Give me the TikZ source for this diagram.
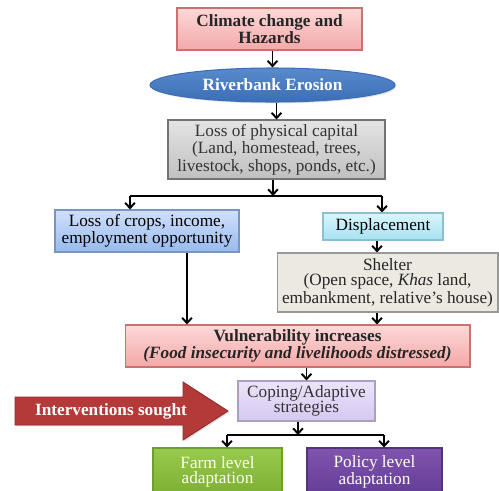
\documentclass[tikz,border=0pt]{standalone}
\usepackage{fontspec}
\setmainfont{Liberation Serif}
\usetikzlibrary{shapes.geometric,shadows,arrows.meta}
\definecolor{pinktop}{RGB}{253,216,216}
\definecolor{pinkbot}{RGB}{243,168,168}
\definecolor{pinkline}{RGB}{205,112,112}
\definecolor{bluetop}{RGB}{88,138,204}
\definecolor{bluebot}{RGB}{60,110,182}
\definecolor{greytop}{RGB}{228,228,228}
\definecolor{greybot}{RGB}{192,192,192}
\definecolor{croptop}{RGB}{208,224,250}
\definecolor{cropbot}{RGB}{152,186,238}
\definecolor{disptop}{RGB}{218,246,252}
\definecolor{dispbot}{RGB}{166,226,242}
\definecolor{shelterfill}{RGB}{236,233,224}
\definecolor{lavtop}{RGB}{236,228,250}
\definecolor{lavbot}{RGB}{214,200,240}
\definecolor{farmtop}{RGB}{152,202,78}
\definecolor{farmbot}{RGB}{124,174,50}
\definecolor{poltop}{RGB}{128,84,174}
\definecolor{polbot}{RGB}{98,60,150}
\definecolor{interv}{RGB}{180,58,58}
\begin{document}
\begin{tikzpicture}[x=0.02cm,y=-0.02cm,
    box/.style={draw,rectangle,align=center,inner sep=1pt,line width=0.6pt,
        font=\fontsize{9.8}{8.8}\selectfont,
        drop shadow={shadow xshift=0.8pt,shadow yshift=-0.8pt,opacity=0.25}},
    bold/.style={font=\fontsize{9.8}{8.8}\selectfont\bfseries},
    arr/.style={-{Straight Barb[length=3pt,width=5.5pt]},line width=1.1pt}]
    \useasboundingbox (0,0) rectangle (499,490);
    \node[box,bold,top color=pinktop,bottom color=pinkbot,draw=pinkline,text=black!85,
        minimum width=3.7cm,minimum height=0.84cm] (clim) at (269.5,29) {Climate change and\\Hazards};
    \node[box,bold,ellipse,top color=bluetop,bottom color=bluebot,draw=bluebot,text=white,
        minimum width=4.9cm,minimum height=0.68cm,inner sep=0pt] (erosion) at (272.5,85) {Riverbank Erosion};
    \node[box,top color=greytop,bottom color=greybot,draw=black!55,text=black!80,
        minimum width=4.34cm,minimum height=1.18cm] (phys) at (276.5,149.5)
        {Loss of physical capital\\(Land, homestead, trees,\\livestock, shops, ponds, etc.)};
    \node[box,top color=croptop,bottom color=cropbot,draw=cropbot!80!black,
        minimum width=3.68cm,minimum height=0.84cm] (crops) at (147,231)
        {Loss of crops, income,\\employment opportunity};
    \node[box,top color=disptop,bottom color=dispbot,draw=dispbot!85!black,
        minimum width=2.4cm,minimum height=0.54cm] (displ) at (383,226.5) {Displacement};
    \node[box,fill=shelterfill,draw=black!40,text=black!85,
        minimum width=4.42cm,minimum height=1.18cm] (shelter) at (387.5,282.5)
        {Shelter\\(Open space, \textit{Khas} land,\\embankment, relative's house)};
    \node[box,bold,top color=pinktop,bottom color=pinkbot,draw=pinkline,text=black!85,
        minimum width=6.9cm,minimum height=0.84cm] (vuln) at (297.5,346)
        {Vulnerability increases\\\textit{(Food insecurity and livelihoods distressed)}};
    \node[box,top color=lavtop,bottom color=lavbot,draw=lavbot!80!black,text=black!80,
        minimum width=2.74cm,minimum height=0.8cm] (coping) at (306.5,401)
        {Coping/Adaptive\\strategies};
    \node[box,top color=farmtop,bottom color=farmbot,draw=farmbot!90!black,text=white!94!yellow,
        minimum width=2.58cm,minimum height=0.96cm] (farm) at (217.5,472) {Farm level\\adaptation};
    \node[box,top color=poltop,bottom color=polbot,draw=polbot!85!black,text=white!94!yellow,
        minimum width=2.7cm,minimum height=0.96cm] (policy) at (374.5,472) {Policy level\\adaptation};
    \filldraw[fill=interv,draw=interv!80!black,line width=0.5pt,
        drop shadow={shadow xshift=0.8pt,shadow yshift=-0.8pt,opacity=0.25}]
        (15,397) -- (183,397) -- (183,382) -- (228,411) -- (183,440) -- (183,425) -- (15,425) -- cycle;
    \node[bold,text=white] (sought) at (111,411) {Interventions sought};
    \coordinate (j1) at (273,196);
    \coordinate (j1l) at (130,196);
    \coordinate (j1r) at (382,196);
    \coordinate (j2) at (298,435);
    \coordinate (j2l) at (227,435);
    \coordinate (j2r) at (384,435);
    \coordinate (cx) at (187,0);
    \coordinate (sx) at (377,0);
    \draw[arr] (clim.south -| erosion) -- (erosion.north);
    \draw[arr] (erosion.south -| phys) -- (phys.north);
    \draw[arr] (phys.south -| j1) -- (j1);
    \draw[line width=1.1pt] (j1l) -- (j1r);
    \draw[arr] (j1l) -- (crops.north -| j1l);
    \draw[arr] (j1r) -- (displ.north -| j1r);
    \draw[arr] (displ.south -| sx) -- (shelter.north -| sx);
    \draw[arr] (crops.south -| cx) -- (vuln.north -| cx);
    \draw[arr] (shelter.south -| sx) -- (vuln.north -| sx);
    \draw[arr] (vuln.south -| coping) -- (coping.north);
    \draw[arr] (coping.south -| j2) -- (j2);
    \draw[line width=1.1pt] (j2l) -- (j2r);
    \draw[arr] (j2l) -- (farm.north -| j2l);
    \draw[arr] (j2r) -- (policy.north -| j2r);
\end{tikzpicture}
\end{document}
